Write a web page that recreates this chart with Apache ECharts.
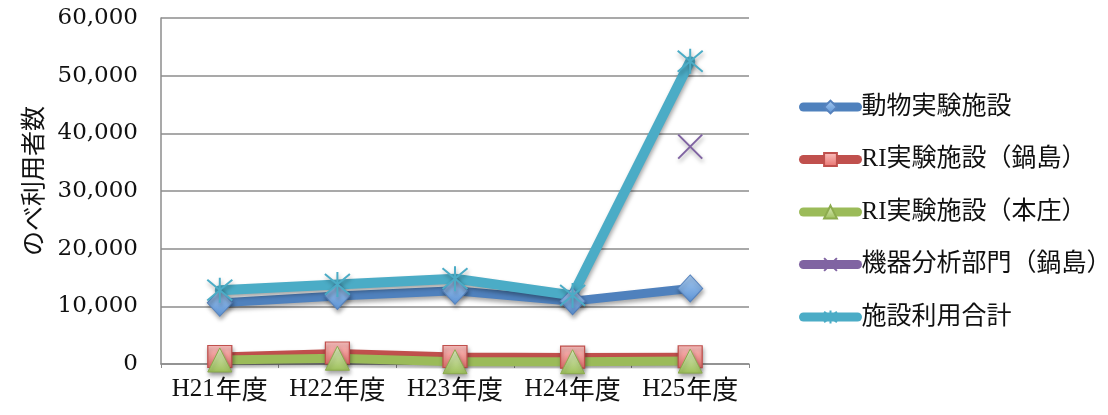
<!DOCTYPE html>
<html>
<head>
<meta charset="utf-8">
<script src="https://cdn.jsdelivr.net/npm/echarts@6/dist/echarts.min.js"></script>
<style>
  html, body { margin: 0; padding: 0; background: #fff; }
  #chart { width: 1108px; height: 415px; }
</style>
</head>
<body>
<div id="chart"></div>
<script>
// 年度別 のべ利用者数
const years = ['H21年度', 'H22年度', 'H23年度', 'H24年度', 'H25年度'];
const seriesNames = ['動物実験施設', 'RI実験施設（鍋島）', 'RI実験施設（本庄）', '機器分析部門（鍋島）', '施設利用合計'];
const animalLab = [10600, 11800, 12700, 10900, 13100];
const riNabeshima = [1300, 1900, 1300, 1200, 1250];
const riHonjo = [700, 1000, 400, 400, 500];
const instrumentNabeshima = [null, null, null, null, 37700];
const facilityTotal = [12800, 13800, 14800, 11900, 52500];
const yTicks = { min: 0, max: 60000, interval: 10000 };

const serif = "'DejaVu Serif', 'Noto Sans CJK JP', serif";
const mixed = "'Liberation Serif', 'Noto Sans CJK JP', serif";

const shadow = { shadowColor: 'rgba(0,0,0,0.35)', shadowBlur: 4, shadowOffsetX: 1, shadowOffsetY: 3 };

function grad(top, bottom) {
  return new echarts.graphic.LinearGradient(0, 0, 0, 1, [
    { offset: 0, color: top }, { offset: 1, color: bottom }
  ]);
}

const starPath = 'path://M0,0L10,10M10,0L0,10M5,-1L5,11';
const crossPath = 'path://M0,0L10,10M10,0L0,10';

function lineSeries(name, data, lineColor, width, symbol, size, itemStyle) {
  return {
    name: name,
    type: 'line',
    data: data,
    symbol: symbol,
    symbolSize: size,
    showAllSymbol: true,
    connectNulls: false,
    lineStyle: Object.assign({ color: lineColor, width: width, cap: 'round', join: 'round' }, shadow),
    itemStyle: Object.assign({}, itemStyle, shadow),
    emphasis: { disabled: true },
    animation: false
  };
}

const chart = echarts.init(document.getElementById('chart'), null, { renderer: 'canvas' });

chart.setOption({
  backgroundColor: '#ffffff',
  animation: false,
  grid: { left: 161, right: 359, top: 18, bottom: 51, containLabel: false },
  legend: {
    orient: 'vertical',
    left: 794,
    top: 88,
    itemWidth: 54,
    itemHeight: 16,
    itemGap: 24.5,
    data: seriesNames,
    lineStyle: { width: 9, cap: 'round', shadowBlur: 0, shadowOffsetX: 0, shadowOffsetY: 0 },
    itemStyle: { shadowBlur: 0, shadowOffsetX: 0, shadowOffsetY: 0 },
    textStyle: { fontFamily: mixed, fontSize: 25, color: '#111', lineHeight: 28, padding: [0, 0, 0, -1] }
  },
  xAxis: {
    type: 'category',
    data: years,
    boundaryGap: true,
    axisLine: { lineStyle: { color: '#8c8c8c', width: 1.5 } },
    axisTick: { show: true, length: 4, lineStyle: { color: '#8c8c8c' } },
    axisLabel: {
      margin: 12,
      formatter: function (v) {
        const m = v.match(/^([A-Za-z0-9]+)(.*)$/);
        return '{l|' + m[1] + '}{c|' + m[2] + '}';
      },
      rich: {
        l: { fontFamily: "'Liberation Serif', serif", fontSize: 25, color: '#111' },
        c: { fontFamily: "'Noto Sans CJK JP', sans-serif", fontSize: 26, color: '#111', padding: [0, 0, 0, 1] }
      }
    }
  },
  yAxis: {
    type: 'value',
    min: yTicks.min,
    max: yTicks.max,
    interval: yTicks.interval,
    name: 'のべ利用者数',
    nameLocation: 'middle',
    nameRotate: 90,
    nameGap: 116,
    nameTextStyle: { fontFamily: "'Noto Sans CJK JP', sans-serif", fontSize: 25, color: '#111', padding: [0, 0, 0, 20] },
    axisLine: { show: true, lineStyle: { color: '#8c8c8c', width: 1.5 } },
    axisTick: { show: false },
    splitLine: { lineStyle: { color: '#8c8c8c', width: 1.5 } },
    axisLabel: {
      margin: 23,
      fontFamily: serif,
      fontSize: 23,
      color: '#111',
      formatter: function (v) { return v.toLocaleString('en-US'); }
    }
  },
  series: [
    lineSeries(seriesNames[0], animalLab, '#4f81bd', 9, 'diamond', [25, 27],
      { color: grad('#a9cbf0', '#5b93d6'), borderColor: '#5682bd', borderWidth: 1 }),
    lineSeries(seriesNames[1], riNabeshima, '#c0504d', 8, 'rect', [24, 22],
      { color: grad('#fbc2c0', '#e8726e'), borderColor: '#c0504d', borderWidth: 1.2 }),
    lineSeries(seriesNames[2], riHonjo, '#9bbb59', 9, 'triangle', [24, 24],
      { color: grad('#e0edc4', '#9dc05a'), borderColor: '#8cab4e', borderWidth: 1 }),
    lineSeries(seriesNames[3], instrumentNabeshima, '#8064a2', 9, crossPath, [24, 24],
      { color: 'rgba(0,0,0,0)', borderColor: '#8064a2', borderWidth: 2 }),
    lineSeries(seriesNames[4], facilityTotal, '#4bacc6', 10, starPath, [25, 25],
      { color: 'rgba(0,0,0,0)', borderColor: '#4bacc6', borderWidth: 2 })
  ]
});
</script>
</body>
</html>
